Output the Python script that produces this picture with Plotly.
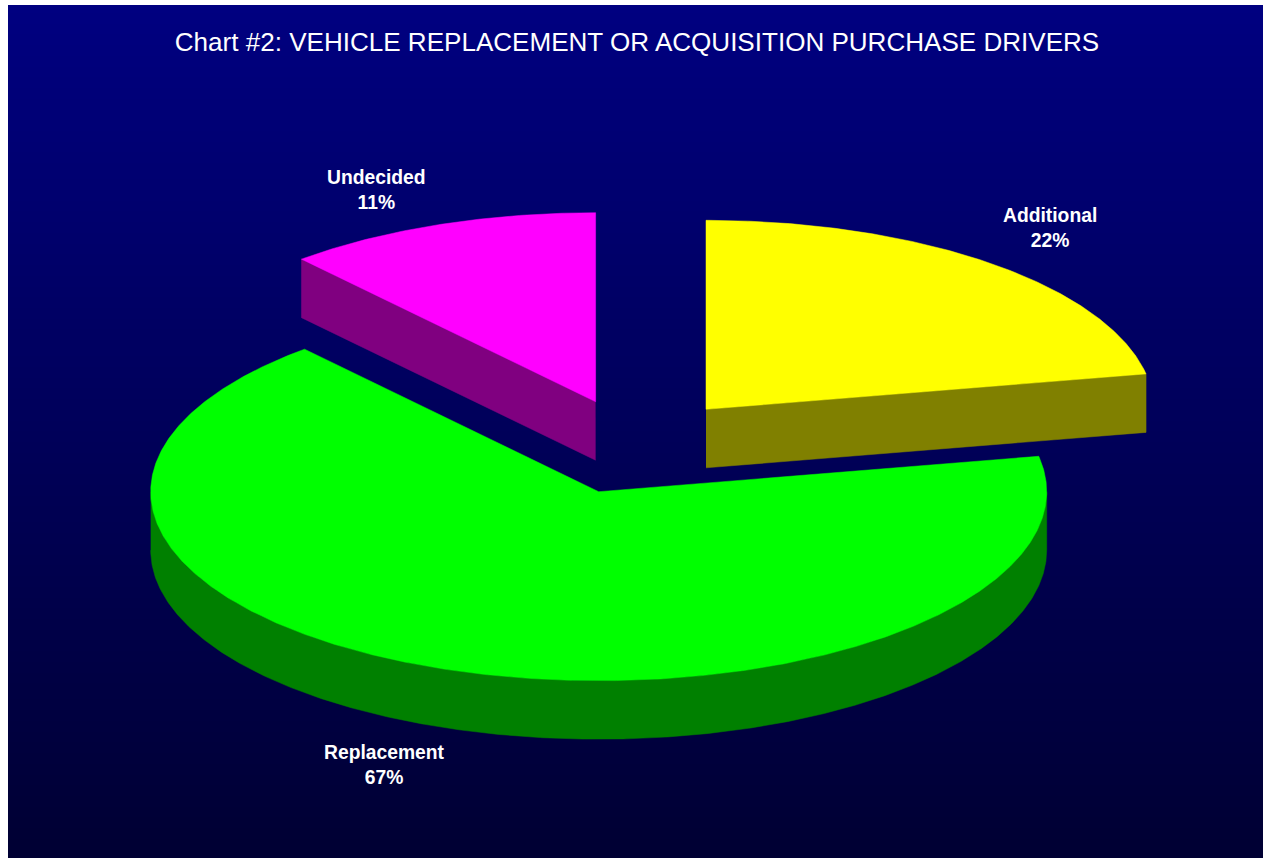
import numpy as np
import plotly.graph_objects as go

TITLE = "Chart #2: VEHICLE REPLACEMENT OR ACQUISITION PURCHASE DRIVERS"
categories = ["Additional", "Replacement", "Undecided"]
shares = [22.0, 66.6, 11.4]
top_colors = ["#ffff00", "#00ff00", "#ff00ff"]
side_colors = ["#808000", "#008000", "#800080"]

# layout constants (page pixels)
CENTERS = [(706, 409.3), (598.7, 491.7), (595.6, 401.7)]
LABEL_POS = [(1050, 227.5), (384, 764.5), (376, 189.8)]
RX, RY, DEPTH = 448, 189, 58.5
FONT = "Liberation Sans, Arial, sans-serif"
X0, Y0, X1, Y1 = 8, 5, 1263, 858


def rim(center, a0, a1, n=None):
    t = np.radians(np.linspace(a0, a1, n or max(int(abs(a1 - a0) * 3), 2)))
    return center[0] + RX * np.cos(t), center[1] - RY * np.sin(t)


def poly(xs, ys, color):
    return go.Scatter(x=list(xs), y=list(ys), mode="lines", fill="toself",
                      fillcolor=color, line=dict(color=color, width=0.5),
                      hoverinfo="skip", showlegend=False)


# slices run clockwise from 12 o'clock
ends = 90 - np.cumsum([0] + [s * 3.6 for s in shares])
fig = go.Figure()

# background gradient
rows = np.linspace(Y0, Y1, 160)
fig.add_trace(go.Heatmap(x=[X0, X1], y=rows, z=[[r, r] for r in rows],
                         colorscale=[[0, "#000080"], [1, "#000033"]],
                         showscale=False, hoverinfo="skip"))

for i, c in enumerate(CENTERS):
    a_start, a_end = ends[i], ends[i + 1]
    # flat cut faces that turn toward the viewer
    for a, normal in ((a_start, a_start + 90), (a_end, a_end - 90)):
        if np.sin(np.radians(normal)) < -1e-9:
            x, y = rim(c, a, a, 1)
            fig.add_trace(poly([c[0], x[0], x[0], c[0]],
                               [c[1], y[0], y[0] + DEPTH, c[1] + DEPTH],
                               side_colors[i]))
    # curved outer wall: the part of the rim on the near half
    for shift in (0, -360):
        lo, hi = max(a_end, 180 + shift), min(a_start, 360 + shift)
        if hi > lo:
            x, y = rim(c, lo, hi)
            fig.add_trace(poly(np.r_[x, x[::-1]], np.r_[y, y[::-1] + DEPTH], side_colors[i]))
    x, y = rim(c, a_start, a_end)
    fig.add_trace(poly(np.r_[c[0], x, c[0]], np.r_[c[1], y, c[1]], top_colors[i]))

annotations = [
    dict(x=p[0], y=p[1], xref="x", yref="y", text=f"{name}<br>{round(v)}%",
         showarrow=False, xanchor="center", yanchor="middle", align="center",
         font=dict(family=FONT, size=19.3, color="#ffffff", weight="bold"))
    for name, v, p in zip(categories, shares, LABEL_POS)
]

fig.update_layout(
    width=X1 - X0, height=Y1 - Y0,
    margin=dict(l=0, r=0, t=0, b=0),
    paper_bgcolor="#000080", plot_bgcolor="#000080",
    xaxis=dict(range=[X0, X1], visible=False, fixedrange=True),
    yaxis=dict(range=[Y1, Y0], visible=False, fixedrange=True),
    title=dict(text=TITLE, x=(637 - X0) / (X1 - X0), xanchor="center",
               y=1 - (42 - Y0) / (Y1 - Y0), yanchor="middle",
               font=dict(family=FONT, size=26.05, color="#ffffff")),
    annotations=annotations,
)

fig.write_html("out.html", config={"displayModeBar": False},
               post_script="document.documentElement.style.overflow='hidden';"
                           "document.body.style.overflow='hidden';"
                           "document.body.style.margin='5px 0 0 8px';")
